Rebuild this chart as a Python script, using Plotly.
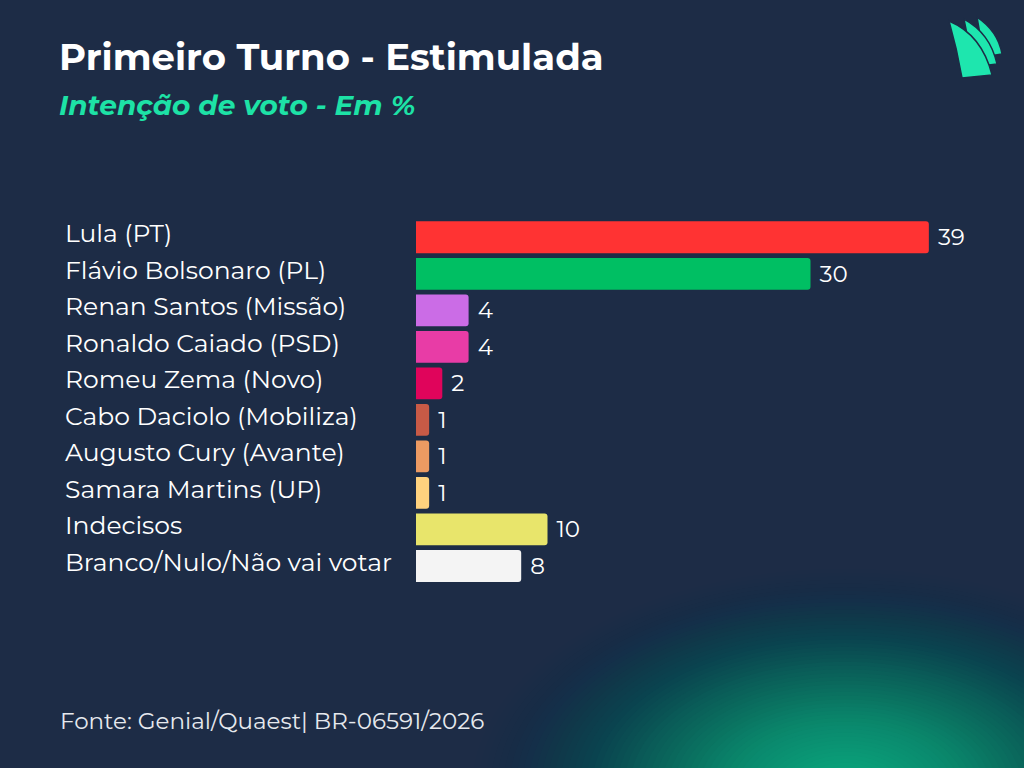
import plotly.graph_objects as go

# --------------------------------------------------------------- #
#### Data ####
# --------------------------------------------------------------- #
candidatos = [
    "Lula (PT)",
    "Flávio Bolsonaro (PL)",
    "Renan Santos (Missão)",
    "Ronaldo Caiado (PSD)",
    "Romeu Zema (Novo)",
    "Cabo Daciolo (Mobiliza)",
    "Augusto Cury (Avante)",
    "Samara Martins (UP)",
    "Indecisos",
    "Branco/Nulo/Não vai votar",
]
votos = [39, 30, 4, 4, 2, 1, 1, 1, 10, 8]
cores = ["#ff3333", "#00bf63", "#cb6ce6", "#e83ca6", "#e0045b",
         "#c85a46", "#ec9a62", "#ffd27e", "#e8e56b", "#f4f4f4"]

titulo = "Primeiro Turno - Estimulada"
subtitulo = "Intenção de voto - Em %"
fonte = "Fonte: Genial/Quaest| BR-06591/2026"

# --------------------------------------------------------------- #
#### Layout geometry (page pixels) ####
# --------------------------------------------------------------- #
W, H = 1024, 768
ML, MR, MT, MB = 416, 56, 218.5, 180.5
PW, PH = W - ML - MR, H - MT - MB
BG = "#1d2c46"
VERDE = "#1de2a6"
FONT = "Montserrat, Inter, sans-serif"


def px2paper(x, y):
    return (x - ML) / PW, (H - MB - y) / PH


fig = go.Figure()
fig.add_bar(
    x=votos, y=candidatos, orientation="h",
    marker=dict(color=cores, cornerradius=3, line=dict(width=0)),
    text=[f" {v}" for v in votos], textposition="outside",
    textfont=dict(color="white", size=23, family=FONT),
    cliponaxis=False, hoverinfo="skip",
)

# category labels, left aligned
lx, _ = px2paper(63, 0)
for c in candidatos:
    fig.add_annotation(x=lx, xref="paper", y=c, yref="y", text=c,
                       xanchor="left", yanchor="middle", showarrow=False,
                       yshift=4, font=dict(color="white", size=25, family=FONT))

# title / subtitle / footnote
tx, ty = px2paper(57, 56)
fig.add_annotation(x=tx, y=ty, xref="paper", yref="paper", text=f"<b>{titulo}</b>",
                   xanchor="left", yanchor="middle", showarrow=False,
                   font=dict(color="white", size=37, family=FONT))
sx, sy = px2paper(57, 104)
fig.add_annotation(x=sx, y=sy, xref="paper", yref="paper", text=f"<b><i>{subtitulo}</i></b>",
                   xanchor="left", yanchor="middle", showarrow=False,
                   font=dict(color=VERDE, size=28, family=FONT))
fx, fy = px2paper(58, 722)
fig.add_annotation(x=fx, y=fy, xref="paper", yref="paper", text=fonte,
                   xanchor="left", yanchor="middle", showarrow=False,
                   font=dict(color="#e6e9ee", size=23, family=FONT))

# --------------------------------------------------------------- #
#### Background glow (bottom right) ####
# --------------------------------------------------------------- #
shapes = []
n = 60
RX, RY = 380, 225
cx, cy = 845, 790
for i in range(n):
    k = 1 - i / n
    a = 0.075 * (i + 1) / n
    rx, ry = RX * k, RY * k
    x0, y0 = px2paper(cx - rx, cy + ry)
    x1, y1 = px2paper(cx + rx, cy - ry)
    shapes.append(dict(type="circle", xref="paper", yref="paper",
                       x0=x0, y0=y0, x1=x1, y1=y1, layer="below",
                       fillcolor=f"rgba(20,190,140,{a:.4f})", line=dict(width=0)))


# --------------------------------------------------------------- #
#### Logo (three sails) ####
# --------------------------------------------------------------- #
def sail(top, br, bl, c_right, c_left):
    pts = [px2paper(*p) for p in (top, c_right, br, bl, c_left, top)]
    f = lambda p: f"{p[0]:.5f},{p[1]:.5f}"
    return (f"M {f(pts[0])} Q {f(pts[1])} {f(pts[2])} L {f(pts[3])} "
            f"Q {f(pts[4])} {f(pts[5])} Z")


sails = [
    ((977, 16), (1002, 53), (983, 56), (998, 30), (981, 36)),
    ((964, 18), (997, 63), (973, 66), (990, 32), (969, 42)),
    ((949, 20), (992, 74), (962, 77), (982, 34), (957, 48)),
]
for s in sails:
    shapes.append(dict(type="path", xref="paper", yref="paper", path=sail(*s),
                       fillcolor="#1ee6ae", line=dict(color=BG, width=1.5)))

fig.update_layout(
    width=W, height=H,
    margin=dict(l=ML, r=MR, t=MT, b=MB, pad=0),
    paper_bgcolor=BG, plot_bgcolor="rgba(0,0,0,0)",
    bargap=0.13, showlegend=False,
    xaxis=dict(range=[0, PW / 13.15], visible=False, fixedrange=True),
    yaxis=dict(autorange="reversed", showticklabels=False, showgrid=False,
               zeroline=False, showline=False, fixedrange=True),
    shapes=shapes,
)

# page default margin pushes the figure off by 8px; drop it
fig.write_html("out.html", config={"displayModeBar": False},
               post_script="document.body.style.margin='0';"
                           "document.body.style.overflow='hidden';")
